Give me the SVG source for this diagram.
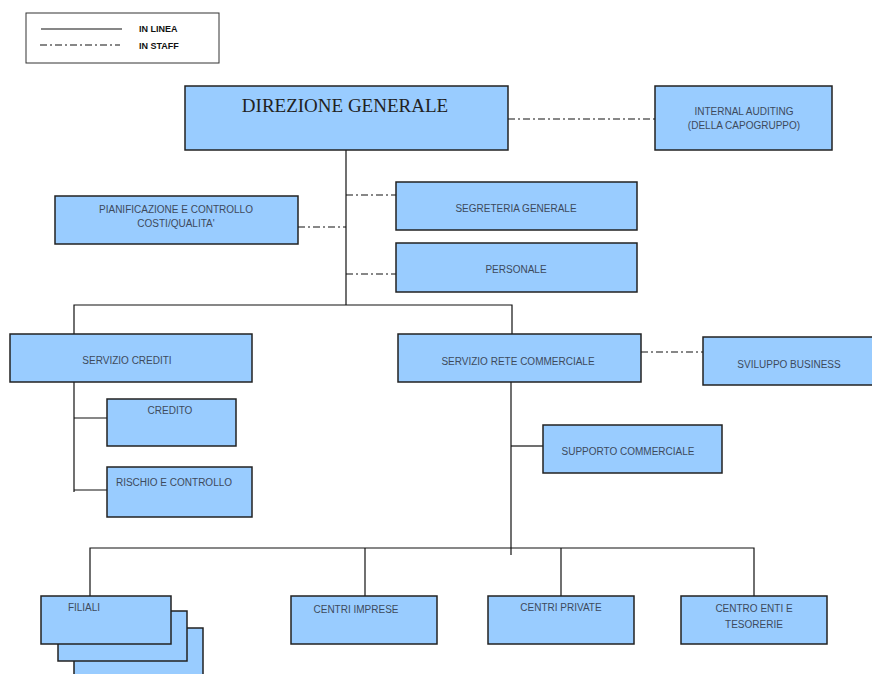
<svg xmlns="http://www.w3.org/2000/svg" width="872" height="674" viewBox="0 0 872 674">
<style>
.b{fill:#99ccff;stroke:#222;stroke-width:1.5}
.t{font-family:"Liberation Sans",Arial,sans-serif;font-size:10px;fill:#3d4a5c;text-anchor:middle}
.l{stroke:#111;stroke-width:1.2;fill:none}
.s{stroke:#111;stroke-width:1.2;fill:none;stroke-dasharray:7,3,2,3}
</style>
<rect width="872" height="674" fill="#fff"/>
<g id="legend">
<rect x="26" y="13" width="193" height="50" fill="#fff" stroke="#333" stroke-width="1"/>
<line x1="41" y1="29" x2="122" y2="29" class="l"/>
<line x1="40" y1="45" x2="120" y2="45" class="s"/>
<text x="139" y="32" font-family="Liberation Sans,sans-serif" font-size="9" font-weight="bold" fill="#111">IN LINEA</text>
<text x="139" y="49" font-family="Liberation Sans,sans-serif" font-size="9" font-weight="bold" fill="#111">IN STAFF</text>
</g>
<g id="connectors">
<line x1="508" y1="119" x2="655" y2="119" class="s"/>
<line x1="346" y1="150" x2="346" y2="305" class="l"/>
<line x1="346" y1="195" x2="396" y2="195" class="s"/>
<line x1="346" y1="274" x2="396" y2="274" class="s"/>
<line x1="298" y1="227" x2="346" y2="227" class="s"/>
<polyline points="74,334 74,305 512,305 512,334" class="l"/>
<line x1="74" y1="382" x2="74" y2="492" class="l"/>
<line x1="74" y1="418" x2="107" y2="418" class="l"/>
<line x1="74" y1="490" x2="107" y2="490" class="l"/>
<line x1="641" y1="352" x2="703" y2="352" class="s"/>
<line x1="511" y1="382" x2="511" y2="555" class="l"/>
<line x1="511" y1="446" x2="543" y2="446" class="l"/>
<polyline points="90,596 90,548 754,548 754,596" class="l"/>
<line x1="365" y1="548" x2="365" y2="596" class="l"/>
<line x1="561" y1="548" x2="561" y2="596" class="l"/>
</g>
<g id="direzione"><rect x="185" y="86" width="323" height="64" class="b"/><text x="345" y="112" font-family="Liberation Serif,serif" font-size="19" fill="#222" text-anchor="middle">DIREZIONE GENERALE</text></g>
<g id="auditing"><rect x="655" y="86" width="177" height="64" class="b"/><text x="744" y="115" class="t">INTERNAL AUDITING</text><text x="744" y="129" class="t">(DELLA CAPOGRUPPO)</text></g>
<g id="segreteria"><rect x="396" y="182" width="241" height="48" class="b"/><text x="516" y="212" class="t">SEGRETERIA GENERALE</text></g>
<g id="personale"><rect x="396" y="243" width="241" height="49" class="b"/><text x="516" y="273" class="t">PERSONALE</text></g>
<g id="pianificazione"><rect x="55" y="196" width="243" height="48" class="b"/><text x="176" y="213" class="t">PIANIFICAZIONE E CONTROLLO</text><text x="176" y="227" class="t">COSTI/QUALITA'</text></g>
<g id="servizio-crediti"><rect x="10" y="334" width="242" height="48" class="b"/><text x="127" y="364" class="t">SERVIZIO CREDITI</text></g>
<g id="credito"><rect x="107" y="399" width="129" height="47" class="b"/><text x="170" y="414" class="t">CREDITO</text></g>
<g id="rischio"><rect x="107" y="467" width="145" height="50" class="b"/><text x="174" y="486" class="t">RISCHIO E CONTROLLO</text></g>
<g id="rete-commerciale"><rect x="398" y="334" width="243" height="48" class="b"/><text x="518" y="365" class="t">SERVIZIO RETE COMMERCIALE</text></g>
<g id="sviluppo"><rect x="703" y="337" width="172" height="48" class="b"/><text x="789" y="368" class="t">SVILUPPO BUSINESS</text></g>
<g id="supporto"><rect x="543" y="425" width="179" height="48" class="b"/><text x="628" y="455" class="t">SUPPORTO COMMERCIALE</text></g>
<g id="filiali">
<rect x="74" y="628" width="129" height="50" class="b"/>
<rect x="58" y="611" width="129" height="50" class="b"/>
<rect x="41" y="596" width="130" height="48" class="b"/>
<text x="84" y="611" class="t">FILIALI</text></g>
<g id="centri-imprese"><rect x="291" y="596" width="146" height="48" class="b"/><text x="356" y="613" class="t">CENTRI IMPRESE</text></g>
<g id="centri-private"><rect x="488" y="596" width="146" height="48" class="b"/><text x="561" y="611" class="t">CENTRI PRIVATE</text></g>
<g id="centro-enti"><rect x="681" y="596" width="146" height="48" class="b"/><text x="754" y="612" class="t">CENTRO ENTI E</text><text x="754" y="628" class="t">TESORERIE</text></g>
</svg>
